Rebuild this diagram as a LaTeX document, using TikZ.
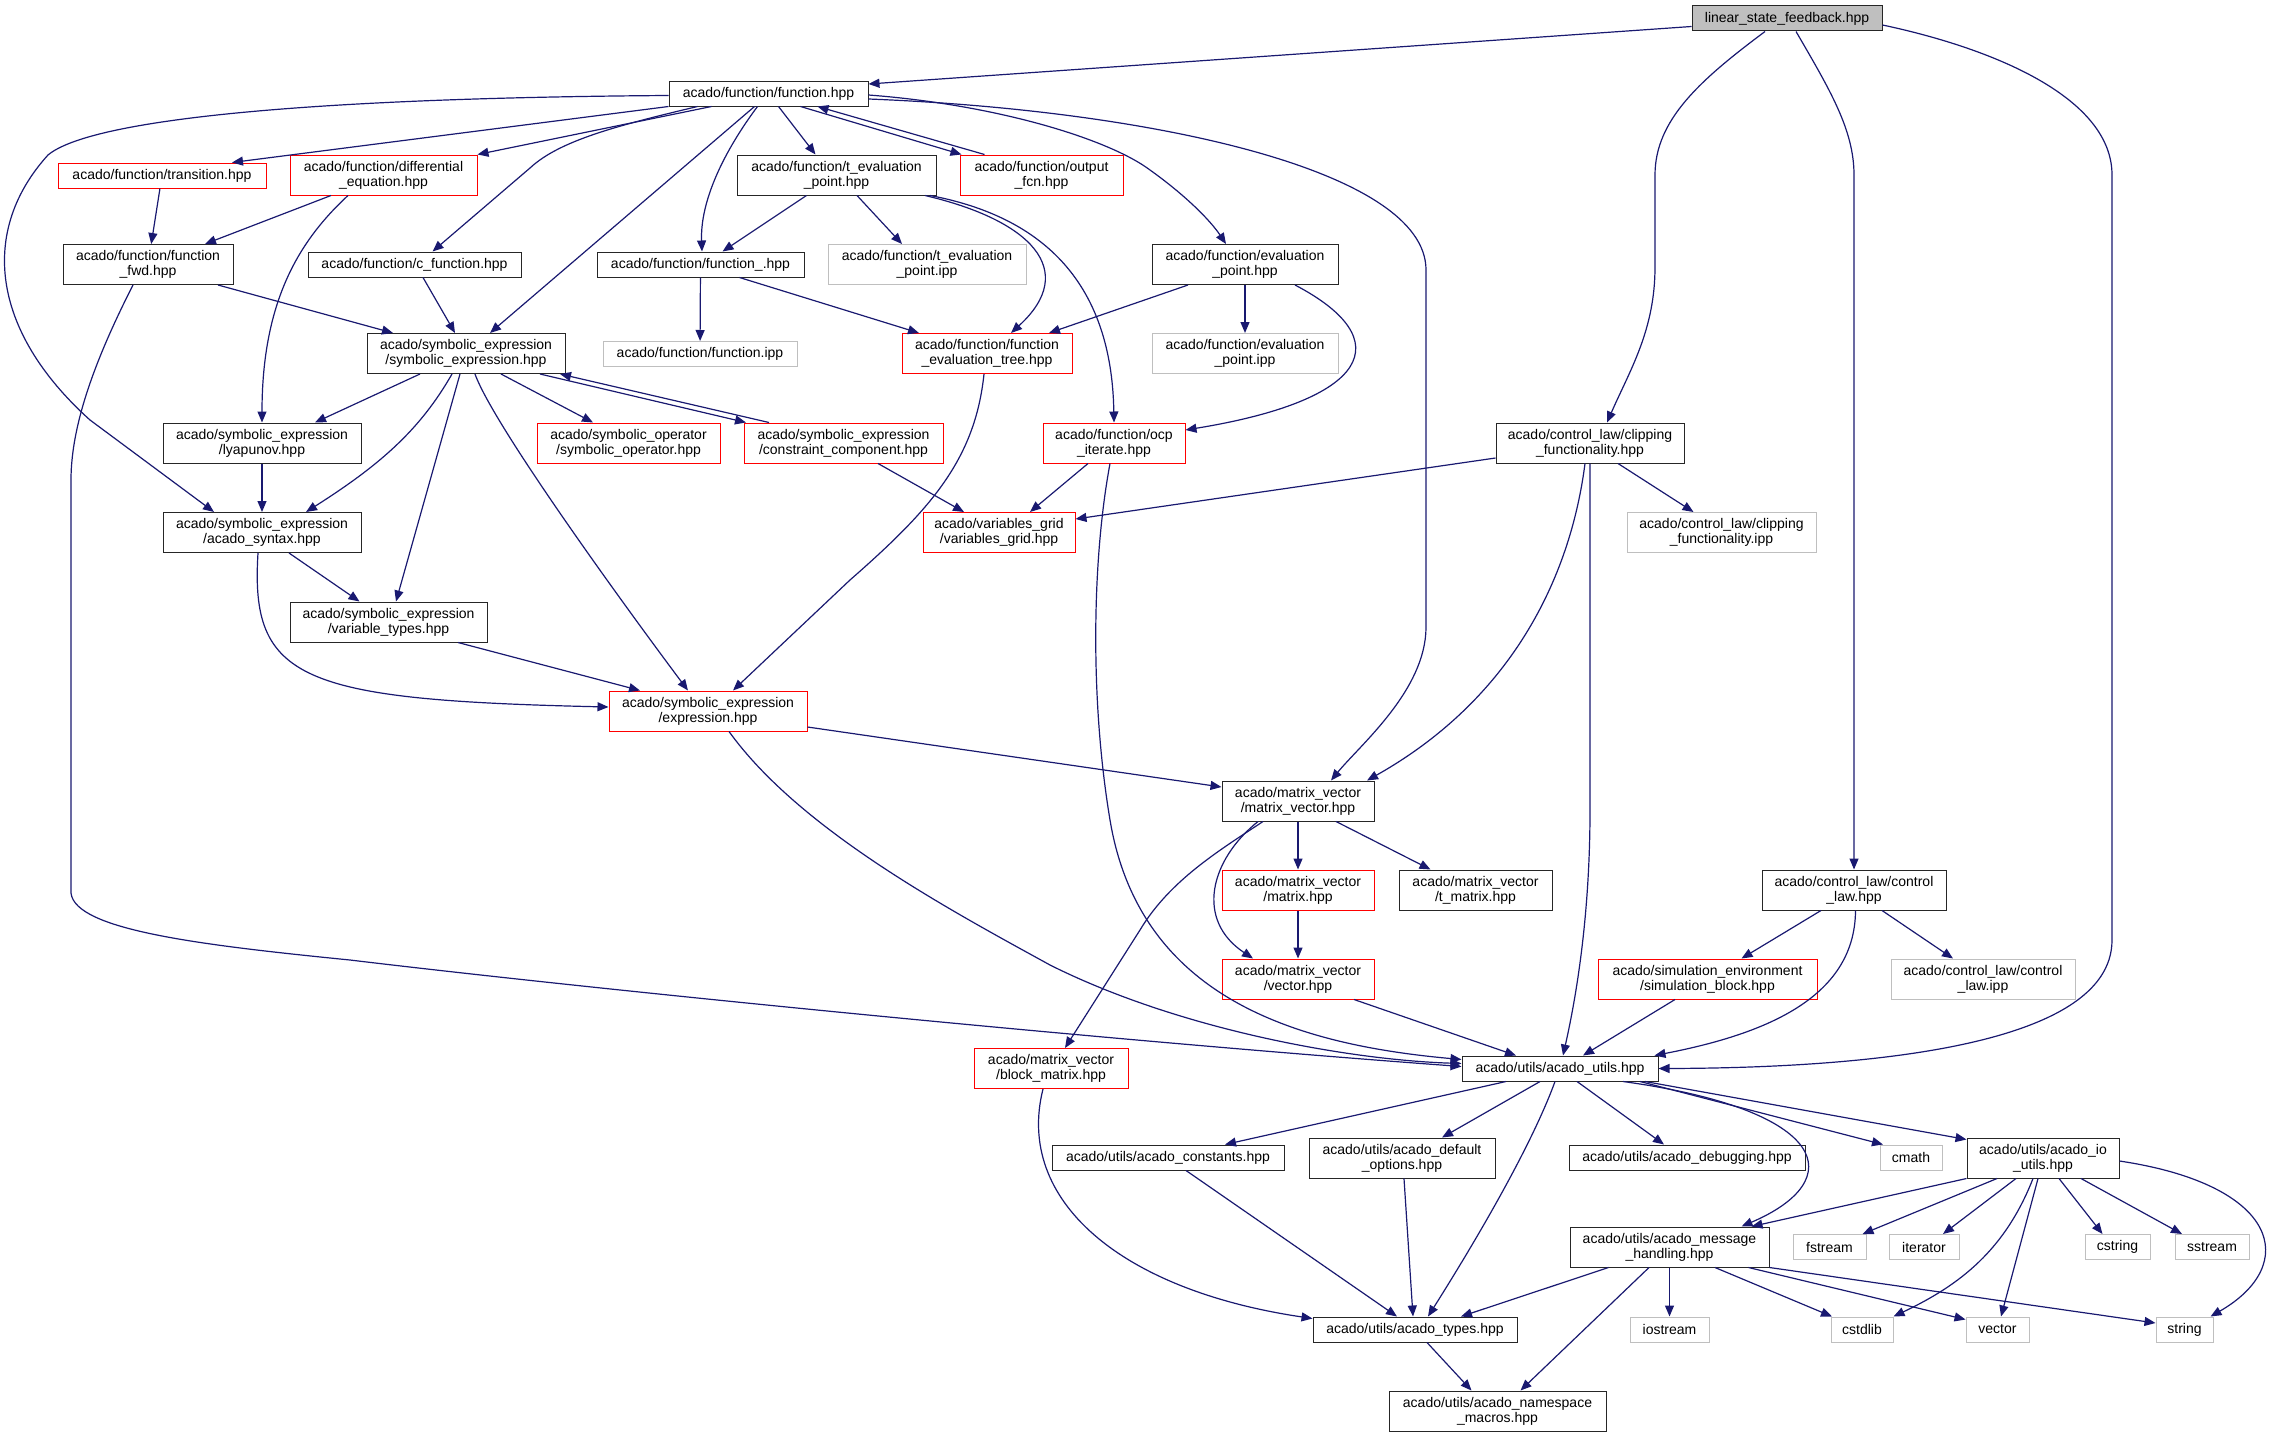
\documentclass[tikz,border=0pt]{standalone}
\usepackage{fontspec}
\setmainfont{Liberation Sans}
\usetikzlibrary{arrows.meta}
\definecolor{edgeblue}{HTML}{191970}
\definecolor{boxgray}{HTML}{BFBFBF}
\begin{document}
\begin{tikzpicture}[x=1pt,y=-1pt,
    file/.style={draw=black!85, line width=1pt, fill=white, inner sep=2pt, align=center,
        font=\fontsize{14}{15}\selectfont, minimum height=25},
    dbl/.style={minimum height=40},
    doc/.style={file, draw=red},
    ext/.style={file, draw=boxgray},
    root/.style={file, fill=boxgray},
    dep/.style={edgeblue, line width=1.2pt, -{Triangle[length=11pt,width=9pt]}}]
    \useasboundingbox (0,0) rectangle (2275,1437);

    % top rows
    \node[root, minimum width=190] (lsf) at (1787,18.5) {linear\_state\_feedback.hpp};
    \node[file, minimum width=199] (fn) at (768.5,93.5) {acado/function/function.hpp};
    \node[doc, minimum width=208] (trans) at (162,175.5) {acado/function/transition.hpp};
    \node[doc, dbl, minimum width=187] (diffeq) at (383.5,175) {acado/function/differential\\\_equation.hpp};
    \node[file, dbl, minimum width=199] (teval) at (836.5,175) {acado/function/t\_evaluation\\\_point.hpp};
    \node[doc, dbl, minimum width=163] (outfcn) at (1041.5,175) {acado/function/output\\\_fcn.hpp};
    \node[file, dbl, minimum width=170] (fwd) at (148,264.5) {acado/function/function\\\_fwd.hpp};
    \node[file, minimum width=213] (cfn) at (414.5,264.5) {acado/function/c\_function.hpp};
    \node[file, minimum width=207] (fnu) at (700.5,264.5) {acado/function/function\_.hpp};
    \node[ext, dbl, minimum width=198] (tevalipp) at (927,264.5) {acado/function/t\_evaluation\\\_point.ipp};
    \node[file, dbl, minimum width=186] (evalpt) at (1245,264.5) {acado/function/evaluation\\\_point.hpp};
    \node[ext, minimum width=194] (fnipp) at (700,354) {acado/function/function.ipp};
    \node[file, dbl, minimum width=198] (symexp) at (466,353.5) {acado/symbolic\_expression\\/symbolic\_expression.hpp};
    \node[doc, dbl, minimum width=170] (evaltree) at (987,353.5) {acado/function/function\\\_evaluation\_tree.hpp};
    \node[ext, dbl, minimum width=186] (evalipp) at (1245,353.5) {acado/function/evaluation\\\_point.ipp};

    % middle rows
    \node[file, dbl, minimum width=198] (lyap) at (262,443) {acado/symbolic\_expression\\/lyapunov.hpp};
    \node[doc, dbl, minimum width=183] (symop) at (628.5,443) {acado/symbolic\_operator\\/symbolic\_operator.hpp};
    \node[doc, dbl, minimum width=199] (constr) at (843.5,443) {acado/symbolic\_expression\\/constraint\_component.hpp};
    \node[doc, dbl, minimum width=142] (ocp) at (1114,443) {acado/function/ocp\\\_iterate.hpp};
    \node[file, dbl, minimum width=188] (clip) at (1590,443) {acado/control\_law/clipping\\\_functionality.hpp};
    \node[file, dbl, minimum width=198] (syntax) at (262,532.5) {acado/symbolic\_expression\\/acado\_syntax.hpp};
    \node[doc, dbl, minimum width=152] (vgrid) at (999,532.5) {acado/variables\_grid\\/variables\_grid.hpp};
    \node[ext, dbl, minimum width=189] (clipipp) at (1721.5,532.5) {acado/control\_law/clipping\\\_functionality.ipp};
    \node[file, dbl, minimum width=197] (vartypes) at (388.5,622) {acado/symbolic\_expression\\/variable\_types.hpp};
    \node[doc, dbl, minimum width=198] (expr) at (708,711) {acado/symbolic\_expression\\/expression.hpp};
    \node[file, dbl, minimum width=152] (mvec) at (1298,801) {acado/matrix\_vector\\/matrix\_vector.hpp};
    \node[doc, dbl, minimum width=152] (matrix) at (1298,890) {acado/matrix\_vector\\/matrix.hpp};
    \node[file, dbl, minimum width=153] (tmatrix) at (1475.5,890) {acado/matrix\_vector\\/t\_matrix.hpp};
    \node[file, dbl, minimum width=184] (claw) at (1854,890) {acado/control\_law/control\\\_law.hpp};
    \node[doc, dbl, minimum width=152] (vector) at (1298,979) {acado/matrix\_vector\\/vector.hpp};
    \node[doc, dbl, minimum width=219] (simblk) at (1707.5,979) {acado/simulation\_environment\\/simulation\_block.hpp};
    \node[ext, dbl, minimum width=184] (clawipp) at (1983,979) {acado/control\_law/control\\\_law.ipp};

    % utils rows
    \node[doc, dbl, minimum width=154] (bmat) at (1051,1068.5) {acado/matrix\_vector\\/block\_matrix.hpp};
    \node[file, minimum width=196] (utils) at (1560,1068.5) {acado/utils/acado\_utils.hpp};
    \node[file, minimum width=232] (consts) at (1168,1157.5) {acado/utils/acado\_constants.hpp};
    \node[file, dbl, minimum width=186] (defopt) at (1402,1158) {acado/utils/acado\_default\\\_options.hpp};
    \node[file, minimum width=236] (debug) at (1687,1157.5) {acado/utils/acado\_debugging.hpp};
    \node[ext, minimum width=62] (cmath) at (1911,1157.5) {cmath};
    \node[file, dbl, minimum width=152] (ioutils) at (2043,1158) {acado/utils/acado\_io\\\_utils.hpp};
    \node[file, dbl, minimum width=199] (msg) at (1669.5,1247) {acado/utils/acado\_message\\\_handling.hpp};
    \node[ext, minimum width=73] (fstream) at (1829.5,1247) {fstream};
    \node[ext, minimum width=70] (iterator) at (1924,1247) {iterator};
    \node[ext, minimum width=65] (cstring) at (2117.5,1247) {cstring};
    \node[ext, minimum width=74] (sstream) at (2212,1247) {sstream};
    \node[file, minimum width=204] (types) at (1415,1329.5) {acado/utils/acado\_types.hpp};
    \node[ext, minimum width=79] (iostream) at (1669.5,1329.5) {iostream};
    \node[ext, minimum width=62] (cstdlib) at (1862,1329.5) {cstdlib};
    \node[ext, minimum width=63] (vec) at (1997.5,1329.5) {vector};
    \node[ext, minimum width=57] (string) at (2184.5,1329.5) {string};
    \node[file, dbl, minimum width=217] (macros) at (1497.5,1411) {acado/utils/acado\_namespace\\\_macros.hpp};

    % linear_state_feedback
    \draw[dep] ([yshift=-8]lsf.west) -- ([yshift=9.5]fn.east);
    \draw[dep] ([xshift=-22]lsf.south) .. controls (1700,80) and (1655,120) .. (1655,175) -- (1655,267) .. controls (1655,330) and (1630,370) .. ([xshift=17]clip.north);
    \draw[dep] ([xshift=9]lsf.south) .. controls (1830,90) and (1854,130) .. (1854,175) -- (claw.north);
    \draw[dep] ([yshift=-6.5]lsf.east) .. controls (2000,50) and (2112,100) .. (2112,175) -- (2112,940) .. controls (2112,1050) and (1850,1068) .. (utils.east);

    % function.hpp
    \draw[dep] ([yshift=-2]fn.west) .. controls (300,98) and (90,120) .. (48,155) .. controls (-20,230) and (-10,330) .. (90,420) -- ([xshift=-48]syntax.north);
    \draw[dep] (fn.south west) -- ([xshift=70]trans.north);
    \draw[dep] ([xshift=-57]fn.south) -- (diffeq.north east);
    \draw[dep] ([xshift=-71]fn.south) .. controls (620,125) and (560,140) .. (530,168) -- ([xshift=18]cfn.north);
    \draw[dep] ([xshift=-14]fn.south) -- ([xshift=24]symexp.north);
    \draw[dep] ([xshift=-11]fn.south) .. controls (725,150) and (700,200) .. ([xshift=1.5]fnu.north);
    \draw[dep] ([xshift=10]fn.south) -- ([xshift=-21]teval.north);
    \draw[dep] ([xshift=32]fn.south) -- ([xshift=-80]outfcn.north);
    \draw[dep] ([xshift=-57]outfcn.north) -- ([xshift=49]fn.south);
    \draw[dep] ([yshift=-1.5]fn.east) .. controls (1000,105) and (1110,140) .. (1150,170) .. controls (1185,195) and (1210,220) .. ([xshift=-19]evalpt.north);
    \draw[dep] ([yshift=-5.5]fn.east) .. controls (1150,110) and (1426,170) .. (1426,270) -- (1426,627) .. controls (1426,690) and (1360,745) .. ([xshift=33]mvec.north);

    % t_evaluation_point, function_, evaluation_point
    \draw[dep] ([xshift=-30]teval.south) -- ([xshift=22]fnu.north);
    \draw[dep] ([xshift=20.5]teval.south) -- ([xshift=-25]tevalipp.north);
    \draw[dep] ([xshift=88.5]teval.south) .. controls (1030,220) and (1080,270) .. ([xshift=24]evaltree.north);
    \draw[dep] ([xshift=93.5]teval.south) .. controls (1060,220) and (1112,300) .. (ocp.north);
    \draw[dep] (fnu) -- (fnipp);
    \draw[dep] ([xshift=39]fnu.south) -- ([xshift=-68]evaltree.north);
    \draw[dep] ([xshift=-57]evalpt.south) -- ([xshift=62]evaltree.north);
    \draw[dep] (evalpt) -- (evalipp);
    \draw[dep] ([xshift=50]evalpt.south) .. controls (1400,340) and (1370,400) .. ([yshift=13]ocp.east);

    % transition, differential_equation, function_fwd, c_function
    \draw[dep] (trans) -- (fwd);
    \draw[dep] ([xshift=-52.5]diffeq.south) -- ([xshift=57]fwd.north);
    \draw[dep] ([xshift=-35.5]diffeq.south) .. controls (300,240) and (262,300) .. (lyap.north);
    \draw[dep] ([xshift=70]fwd.south) -- ([xshift=-73]symexp.north);
    \draw[dep] ([xshift=-15]fwd.south) .. controls (100,350) and (71,420) .. (71,480) -- (71,893) .. controls (75,930) and (200,945) .. (350,960) .. controls (600,990) and (1100,1040) .. ([yshift=2]utils.west);
    \draw[dep] ([xshift=8.5]cfn.south) -- ([xshift=-11]symexp.north);

    % symbolic_expression
    \draw[dep] ([xshift=-46]symexp.south) -- ([xshift=53]lyap.north);
    \draw[dep] ([xshift=-14]symexp.south) .. controls (420,430) and (380,465) .. ([xshift=44]syntax.north);
    \draw[dep] ([xshift=-6]symexp.south) -- ([xshift=7.5]vartypes.north);
    \draw[dep] ([xshift=9]symexp.south) .. controls (495,430) and (650,640) .. ([xshift=-20]expr.north);
    \draw[dep] ([xshift=35]symexp.south) -- ([xshift=-35.5]symop.north);
    \draw[dep] ([xshift=74]symexp.south) -- ([xshift=-97.5]constr.north);
    \draw[dep] ([xshift=-74.5]constr.north) -- ([xshift=94]symexp.south);
    \draw[dep] (lyap) -- (syntax);
    \draw[dep] ([xshift=27]syntax.south) -- ([xshift=-29]vartypes.north);
    \draw[dep] ([xshift=-4]syntax.south) .. controls (250,680) and (300,700) .. ([yshift=4]expr.west);
    \draw[dep] ([xshift=69.5]vartypes.south) -- ([xshift=-68]expr.north);
    \draw[dep] ([xshift=34.5]constr.south) -- ([xshift=-35]vgrid.north);
    \draw[dep] ([xshift=-3]evaltree.south) .. controls (975,460) and (930,510) .. (850,580) -- ([xshift=25]expr.north);

    % ocp_iterate, clipping_functionality
    \draw[dep] ([xshift=-26]ocp.south) -- ([xshift=31]vgrid.north);
    \draw[dep] ([xshift=-4]ocp.south) .. controls (1092,560) and (1090,700) .. (1110,820) .. controls (1140,1000) and (1300,1045) .. ([yshift=9]utils.west);
    \draw[dep] ([yshift=-15]clip.west) -- ([yshift=13.5]vgrid.east);
    \draw[dep] ([xshift=28]clip.south) -- ([xshift=-28]clipipp.north);
    \draw[dep] ([xshift=-5]clip.south) .. controls (1570,580) and (1510,700) .. ([xshift=69]mvec.north);
    \draw[dep] (clip.south) -- (1590,810) .. controls (1590,900) and (1580,980) .. ([xshift=3]utils.north);

    % expression, matrix_vector
    \draw[dep] ([yshift=-16]expr.east) -- ([yshift=14]mvec.west);
    \draw[dep] ([xshift=21]expr.south) .. controls (800,830) and (950,910) .. (1050,965) .. controls (1180,1030) and (1350,1060) .. ([yshift=5]utils.west);
    \draw[dep] (mvec) -- (matrix);
    \draw[dep] ([xshift=38]mvec.south) -- ([xshift=-45]tmatrix.north);
    \draw[dep] ([xshift=-40]mvec.south) .. controls (1210,860) and (1195,920) .. ([xshift=-45]vector.north);
    \draw[dep] ([xshift=-35]mvec.south) .. controls (1220,850) and (1170,880) .. (1140,930) -- ([xshift=14]bmat.north);
    \draw[dep] (matrix) -- (vector);
    \draw[dep] ([xshift=56]vector.south) -- ([xshift=-44]utils.north);

    % control_law
    \draw[dep] ([xshift=-33]claw.south) -- ([xshift=34]simblk.north);
    \draw[dep] ([xshift=28]claw.south) -- ([xshift=-30]clawipp.north);
    \draw[dep] ([xshift=1.5]claw.south) .. controls (1855,1000) and (1760,1035) .. ([xshift=-4]utils.north east);
    \draw[dep] ([xshift=-32.5]simblk.south) -- ([xshift=23]utils.north);
    \draw[dep] ([xshift=-8]bmat.south) .. controls (1015,1200) and (1120,1290) .. ([yshift=11]types.west);

    % acado_utils
    \draw[dep] ([xshift=-54]utils.south) -- ([xshift=57]consts.north);
    \draw[dep] ([xshift=-20]utils.south) -- ([xshift=40]defopt.north);
    \draw[dep] ([xshift=-5]utils.south) .. controls (1530,1150) and (1470,1250) .. ([xshift=13]types.north);
    \draw[dep] ([xshift=17]utils.south) -- ([xshift=-23]debug.north);
    \draw[dep] ([xshift=80]utils.south) -- ([xshift=-28]cmath.north);
    \draw[dep] ([xshift=85]utils.south) -- ([yshift=-2]ioutils.north west);
    \draw[dep] ([xshift=63]utils.south) .. controls (1830,1110) and (1850,1180) .. ([xshift=72]msg.north);
    \draw[dep] ([xshift=18]consts.south) -- ([xshift=-18]types.north);
    \draw[dep] ([xshift=2]defopt.south) -- ([xshift=-2]types.north);
    \draw[dep] ([xshift=12]types.south) -- ([xshift=-26]macros.north);

    % acado_message_handling
    \draw[dep] ([xshift=-61]msg.south) -- ([xshift=46]types.north);
    \draw[dep] ([xshift=-20.5]msg.south) -- ([xshift=23]macros.north);
    \draw[dep] (msg) -- (iostream);
    \draw[dep] ([xshift=45.5]msg.south) -- ([xshift=-30]cstdlib.north);
    \draw[dep] ([xshift=79]msg.south) -- ([yshift=-3]vec.north west);
    \draw[dep] (msg.south east) -- ([yshift=6.5]string.west);

    % acado_io_utils
    \draw[dep] (ioutils.south west) -- ([xshift=82]msg.north);
    \draw[dep] ([xshift=-46]ioutils.south) -- ([xshift=33]fstream.north);
    \draw[dep] ([xshift=-27]ioutils.south) -- ([xshift=19]iterator.north);
    \draw[dep] ([xshift=16]ioutils.south) -- ([xshift=-15]cstring.north);
    \draw[dep] ([xshift=38]ioutils.south) -- ([xshift=-30]sstream.north);
    \draw[dep] ([xshift=-10]ioutils.south) .. controls (2005,1250) and (1960,1285) .. (cstdlib.north east);
    \draw[dep] ([xshift=-5]ioutils.south) -- ([xshift=3.5]vec.north);
    \draw[dep] ([yshift=-3]ioutils.east) .. controls (2280,1185) and (2300,1265) .. ([xshift=-3]string.north east);
\end{tikzpicture}
\end{document}
